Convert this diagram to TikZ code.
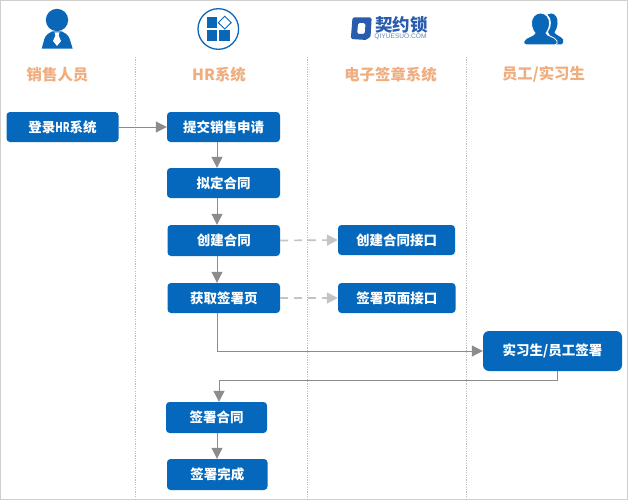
\documentclass[tikz,border=0pt]{standalone}
\usepackage{fontspec}
\setmainfont{Noto Sans CJK SC}
\newfontfamily\latinsans{Liberation Sans}
\usetikzlibrary{arrows.meta,calc}
\definecolor{bluebox}{HTML}{0568BC}
\definecolor{iconblue}{HTML}{0A67B8}
\definecolor{logoblue}{HTML}{2A5CAE}
\definecolor{headtext}{HTML}{F0AD80}
\definecolor{linegray}{HTML}{8C8C8C}
\definecolor{dashgray}{HTML}{C4C4C4}
\definecolor{framegray}{HTML}{CFCFCF}
\definecolor{lanegray}{HTML}{BDBDBD}
\tikzset{
  x=1pt,y=-1pt,
  boxlabel/.style={inner sep=0pt,text=white,font=\fontsize{13.5}{15}\selectfont\bfseries},
  headlabel/.style={text=headtext,font=\fontsize{15.4}{18}\selectfont\bfseries,inner sep=0pt,anchor=center},
  flow/.style={draw=linegray,line width=1pt,-{Triangle[length=11pt,width=11pt,fill=linegray]}},
  apicall/.style={draw=dashgray,line width=1.7pt,dash pattern=on 8pt off 6pt,-{Triangle[length=11pt,width=11pt,fill=dashgray]}},
  lane/.style={draw=lanegray,line width=1pt,dash pattern=on 1.2pt off 1.2pt},
}
\newcommand{\flowbox}[6]{% name, x1, y1, x2, y2, text
  \path[fill=bluebox,rounded corners=3.5pt] (#2,#3) rectangle (#4,#5);
  \node[boxlabel,minimum width=#4pt-#2pt,minimum height=#5pt-#3pt] (#1) at ({(#2+#4)/2},{(#3+#5)/2}) {\raisebox{-0.6pt}{#6}};
}
\begin{document}
\begin{tikzpicture}
\useasboundingbox (0,0) rectangle (628,500);
\fill[white] (0,0) rectangle (628,500);
\draw[framegray,line width=1pt] (0.5,0.5) rectangle (627,499.3);
% lanes
\draw[lane] (135,57) -- (135,499);
\draw[lane] (307.5,57) -- (307.5,499);
\draw[lane] (466.5,57) -- (466.5,499);
% person icon
\fill[iconblue] (57,20) circle (11.2);
\fill[iconblue] (41.7,48.7) -- (44.5,38.5) .. controls (46,34.5) and (49,33) .. (52,31.5) -- (62,31.5) .. controls (65,33) and (68,34.5) .. (69.5,38.5) -- (72.7,48.7) -- cycle;
\fill[white] (54.5,32.5) -- (59.5,32.5) -- (58.6,35.5) -- (61,41) -- (57,46) -- (53,41) -- (55.4,35.5) -- cycle;
% HR icon
\draw[iconblue,line width=1.3pt] (218.3,29) circle (20.3);
\fill[iconblue] (206.7,17.5) rectangle (217.3,28.4);
\fill[iconblue] (206.7,30) rectangle (217.3,41.3);
\fill[iconblue] (218.8,30) rectangle (229.7,41.3);
\draw[iconblue,line width=0.9pt] (224.7,16.2) -- (231.2,22.7) -- (224.7,29) -- (218.3,22.7) -- cycle;
% logo
\fill[logoblue,even odd rule,rounded corners=1.5pt] (352.5,17.5) -- (371.7,17.5) -- (370.5,37.5) -- (368,37.5) -- (367,40) -- (350.8,39) -- cycle
  (358,23) -- (365.5,23) -- (364.8,34) -- (357.2,34) -- cycle;
\node[inner sep=0pt,text=logoblue,font=\fontsize{17.5}{18}\selectfont\bfseries] (logotext) at (401.5,24.5) {契约锁};
\node[inner sep=0pt,text=logoblue!75,font=\latinsans\fontsize{6.6}{7}\selectfont] (logosub) at (400.5,37) {QIYUESUO.COM};
% group icon
\fill[iconblue] (551,13.5) .. controls (555.5,13.5) and (558,18) .. (557.5,23.5) .. controls (557.2,27.5) and (555.5,30.5) .. (554.5,32.5) .. controls (555,35) and (561,36) .. (563,39.5) .. controls (564,42) and (563,44.5) .. (560,44.5) -- (555,44.5) -- (548,32) .. controls (552,27) and (552,18) .. (547.5,14.5) .. controls (548.5,13.8) and (549.8,13.5) .. (551,13.5) -- cycle;
\fill[iconblue,draw=white,line width=0.8pt] (540.5,13) .. controls (546,13) and (550,18) .. (549.5,24) .. controls (549.2,28) and (547.5,31.5) .. (546,33) .. controls (546,36) and (555,36.5) .. (557,41) .. controls (557.5,43) and (557,44.8) .. (555,44.8) -- (526,44.8) .. controls (524,44.8) and (523.5,43) .. (524,41) .. controls (526,36.5) and (535,36) .. (535,33) .. controls (533.5,31.5) and (531.8,28) .. (531.5,24) .. controls (531,18) and (535,13) .. (540.5,13) -- cycle;
% headers
\node[headlabel] (h1) at (57.5,74.5) {销售人员};
\node[headlabel] (h2) at (219,74.5) {HR系统};
\node[headlabel] (h3) at (390.5,74.5) {电子签章系统};
\node[headlabel] (h4) at (543.5,74.5) {员工/实习生};
% boxes
\flowbox{login}{6.5}{112}{118.5}{142}{登录\scalebox{0.72}[1]{HR}系统}
\flowbox{submit}{167}{112}{280}{142}{提交销售申请}
\flowbox{draft}{167}{168}{280}{198}{拟定合同}
\flowbox{create}{167.5}{225}{280}{256}{创建合同}
\flowbox{createapi}{338}{225}{455}{255}{创建合同接口}
\flowbox{getpage}{167.5}{283}{280}{313}{获取签署页}
\flowbox{pageapi}{338}{283}{455.5}{313}{签署页面接口}
\path[fill=bluebox,rounded corners=6pt] (483,331) rectangle (622,371);
\node[boxlabel,minimum width=139pt,minimum height=40pt] (sign) at (552.5,351) {\raisebox{-0.6pt}{实习生/员工签署}};
\flowbox{contract}{166}{402}{267}{433}{签署合同}
\flowbox{done}{167}{459}{267.5}{490}{签署完成}
% connectors
\draw[flow] (login.east) -- (submit.west);
\draw[flow] (submit.south -| 217,0) -- (draft.north -| 217,0);
\draw[flow] (draft.south -| 217,0) -- (create.north -| 217,0);
\draw[flow] (create.south -| 217,0) -- (getpage.north -| 217,0);
\draw[apicall] (create.east) -- (createapi.west);
\draw[apicall] (getpage.east) -- (pageapi.west);
\draw[flow] (getpage.south -| 217,0) -- (217,351) -- (sign.west);
\draw[flow] (sign.south -| 557,0) -- (557,380.5) -- (219,380.5) -- (contract.north -| 219,0);
\draw[flow] (contract.south -| 217,0) -- (done.north -| 217,0);
\end{tikzpicture}
\end{document}
